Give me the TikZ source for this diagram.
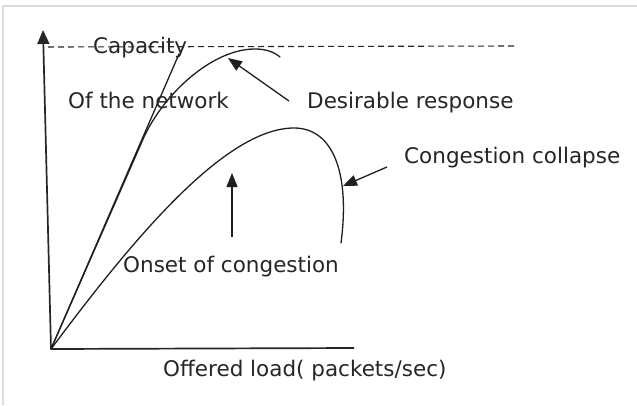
\documentclass[tikz,border=0pt]{standalone}
\usepackage{fontspec}
\setmainfont{DejaVu Sans}
\usetikzlibrary{arrows.meta}
\begin{document}
\begin{tikzpicture}[x=1pt,y=-1pt,
  curve/.style={draw=black!88, line width=1.3pt, line cap=round},
  axis/.style={draw=black!85, line width=1.7pt},
  lbl/.style={anchor=base west, inner sep=0pt, font=\fontsize{21.5}{24}\selectfont, text=black!85},
  pointer/.style={draw=black!88, line width=1.3pt, -{Triangle[length=14pt,width=11pt]}},
  limit/.style={draw=black!85, line width=1.1pt, dash pattern=on 6pt off 4pt},
  frameline/.style={draw=black!14, line width=1.5pt}]
\fill[white] (0,0) rectangle (637,405);
\useasboundingbox (0,0) rectangle (637,405);
\draw[frameline] (3,405) -- (3,6) -- (637,6);

% axes
\coordinate (O) at (51,349);
\coordinate (ytip) at (43,30);
\coordinate (xend) at (354,348);
\draw[axis, -{Triangle[length=14pt,width=12pt]}] (O) -- (ytip);
\draw[axis] (O) -- (xend);

% capacity level
\coordinate (capL) at (48,47);
\coordinate (capR) at (517,46);
\draw[limit] (capL) -- (capR);

% ideal linear throughput
\coordinate (lineTop) at (179,54);
\draw[curve] (O) -- (lineTop);

% desirable response
\draw[curve] (O) -- (141.8,142) .. controls (160,98) and (210,49) .. (255,49)
  .. controls (266,49) and (274,52) .. (280,57);

% congestion collapse curve
\draw[curve] (O) .. controls (125,250) and (222,128) .. (294,128)
  .. controls (334,128) and (350,175) .. (341,243);

% labels
\node[lbl] (capacity) at (93,53) {Capacity};
\node[lbl] (network) at (68,108) {Of the network};
\node[lbl] (desirable) at (307,108) {Desirable response};
\node[lbl] (collapse) at (404,163) {Congestion collapse};
\node[lbl] (onset) at (123,272) {Onset of congestion};
\node[lbl] (load) at (163,376) {Offered load( packets/sec)};

% pointers
\coordinate (desTail) at (289,101);
\coordinate (desTip) at (228,58);
\coordinate (colTail) at (387,167);
\coordinate (colTip) at (343,186);
\coordinate (onTail) at (232,237);
\coordinate (onTip) at (232,173);
\draw[pointer] (desTail) -- (desTip);
\draw[pointer] (colTail) -- (colTip);
\draw[pointer] (onTail) -- (onTip);
\end{tikzpicture}
\end{document}
